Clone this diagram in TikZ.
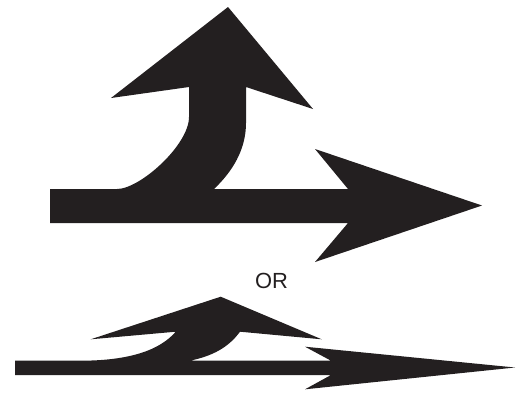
\documentclass[tikz,border=0pt]{standalone}
\usepackage{fontspec}
\setmainfont{Liberation Sans}
\usepackage{xcolor}
\usepackage{tikz}
\definecolor{signBlack}{HTML}{231F20}
\tikzset{
  signshape/.style={fill=signBlack,draw=none},
  orlabel/.style={inner sep=0pt,text=signBlack,font=\fontsize{22}{24}\selectfont}
}

\begin{document}
\begin{tikzpicture}[x=1bp,y=-1bp]
\useasboundingbox (0,0) rectangle (525,392);

% upper sign: right turn branching up from the straight arrow
\fill[signshape] (50,189) -- (117,189)
  .. controls (140,189) and (189,145) .. (189,117)
  -- (189,87) -- (111,98) -- (228,7) -- (313,109) -- (246,87) -- (246,123)
  .. controls (246,150) and (232,172) .. (214,189)
  -- (348,189) -- (315,149) -- (482,205.5) -- (315,262) -- (348,223)
  -- (50,223) -- cycle;

\node[orlabel] (orword) at (271.5,281) {OR};

% lower sign: flattened version
\fill[signshape] (15,360.7) -- (80,360.7)
  .. controls (130,360.7) and (160,350) .. (175.7,331.7)
  -- (90.7,339.3) -- (220.7,296.7) -- (321.7,339.3) -- (240,331.7)
  .. controls (228,348) and (212,356) .. (190,360.7)
  -- (331,360.7) -- (305,346.7) -- (515,367.5) -- (305,389.3) -- (331,375)
  -- (15,375) -- cycle;
\end{tikzpicture}
\end{document}
